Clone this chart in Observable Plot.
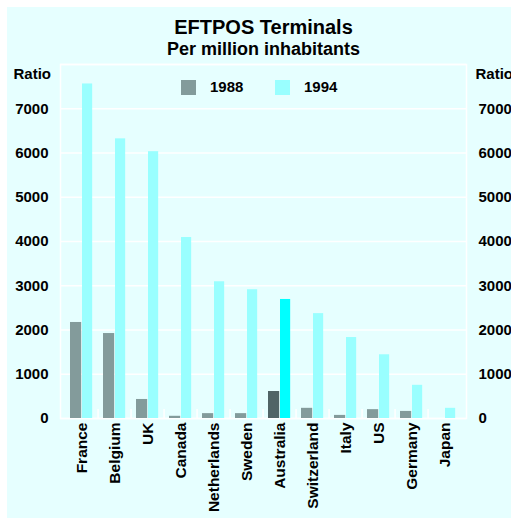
<!DOCTYPE html>
<html>
<head>
<meta charset="utf-8">
<script src="https://cdn.jsdelivr.net/npm/d3@7"></script>
<script src="https://cdn.jsdelivr.net/npm/@observablehq/plot@0.6"></script>
<style>
  html, body { margin: 0; padding: 0; background: #ffffff; }
  #chart { padding: 7px 0 0 7px; width: 504px; height: 511px; }
  #chart svg { display: block; overflow: hidden; }
</style>
</head>
<body>
<div id="chart"></div>
<script>
// ---- data ----
const countries = ["France", "Belgium", "UK", "Canada", "Netherlands", "Sweden", "Australia", "Switzerland", "Italy", "US", "Germany", "Japan"];
const values1988 = [2170, 1920, 430, 50, 110, 110, 610, 230, 70, 200, 160, 0];
const values1994 = [7560, 6320, 6030, 4090, 3090, 2910, 2690, 2370, 1830, 1440, 750, 230];
const years = ["1988", "1994"];
const yTicks = [0, 1000, 2000, 3000, 4000, 5000, 6000, 7000];
const gridTicks = [0, 1000, 2000, 3000, 4000, 5000, 6000, 7000, 8000];
const highlight = "Australia";

const title = "EFTPOS Terminals";
const subtitle = "Per million inhabitants";
const axisUnit = "Ratio";

// ---- styling ----
const bg = "#e6ffff";
const colors = {"1988": "#839b9b", "1994": "#99ffff"};
const hiColors = {"1988": "#506466", "1994": "#00ffff"};
const font = "'Liberation Sans', Arial, Helvetica, sans-serif";

const data = countries.map((c, i) => ({country: c, v1988: values1988[i], v1994: values1994[i]}));

const W = 504, H = 511;
const mL = 53, mR = 45, mT = 57, mB = 100;
const bw = (W - mL - mR) / countries.length;
const plotH = H - mT - mB;

const chart = Plot.plot({
  width: W,
  height: H,
  marginLeft: mL,
  marginRight: mR,
  marginTop: mT,
  marginBottom: mB,
  style: {background: bg, fontFamily: font, fontWeight: "bold", fontSize: "15px", color: "#000"},
  x: {type: "band", domain: countries, padding: 0, axis: null},
  y: {domain: [0, 8000], axis: null},
  marks: [
    Plot.ruleY(gridTicks, {stroke: "white", strokeWidth: 1.5}),
    Plot.frame({stroke: "white", strokeWidth: 1.5}),
    Plot.ruleX(countries.slice(1), {x: d => d, dx: -bw / 2, insetTop: plotH - 9, stroke: "white", strokeWidth: 1.5}),
    Plot.barY(data, {
      x: "country", y: "v1988",
      fill: d => d.country === highlight ? hiColors["1988"] : colors["1988"],
      insetLeft: 5, insetRight: bw - 17
    }),
    Plot.barY(data, {
      x: "country", y: "v1994",
      fill: d => d.country === highlight ? hiColors["1994"] : colors["1994"],
      insetLeft: 17, insetRight: bw - 28
    }),
    Plot.axisY({anchor: "left", ticks: yTicks, tickFormat: d => String(d), tickSize: 0, tickPadding: 12, label: null, fontSize: 15, fontWeight: "bold"}),
    Plot.axisY({anchor: "right", ticks: yTicks, tickFormat: d => String(d), tickSize: 0, tickPadding: 12, label: null, fontSize: 15, fontWeight: "bold"}),
    Plot.axisX({anchor: "bottom", tickSize: 0, tickPadding: 4, tickRotate: -90, label: null, fontSize: 15.5, fontWeight: "bold"}),
    Plot.text([axisUnit], {frameAnchor: "top-left", dx: -47, dy: 14.7, textAnchor: "start", lineAnchor: "bottom", fontSize: 15, fontWeight: "bold"}),
    Plot.text([axisUnit], {frameAnchor: "top-right", dx: 9, dy: 14.7, textAnchor: "start", lineAnchor: "bottom", fontSize: 15, fontWeight: "bold"}),
    Plot.text([title], {frameAnchor: "top", dy: -30.7, lineAnchor: "bottom", fontSize: 20, fontWeight: "bold", letterSpacing: 0.4}),
    Plot.text([subtitle], {frameAnchor: "top", dy: -10, lineAnchor: "bottom", fontSize: 18, fontWeight: "bold"})
  ]
});

// legend (layout inside the plot area)
const svg = d3.select(chart);
const lg = svg.append("g")
  .attr("font-family", font).attr("font-weight", "bold").attr("font-size", 15)
  .attr("text-anchor", "start");
years.forEach((yr, i) => {
  const x0 = 174 + i * 94;
  lg.append("rect").attr("x", x0).attr("y", 73).attr("width", 15).attr("height", 15).attr("fill", colors[yr]);
  lg.append("text").attr("x", x0 + 29).attr("y", 84.5).attr("fill", "#000").text(yr);
});

document.getElementById("chart").appendChild(chart);
</script>
</body>
</html>
